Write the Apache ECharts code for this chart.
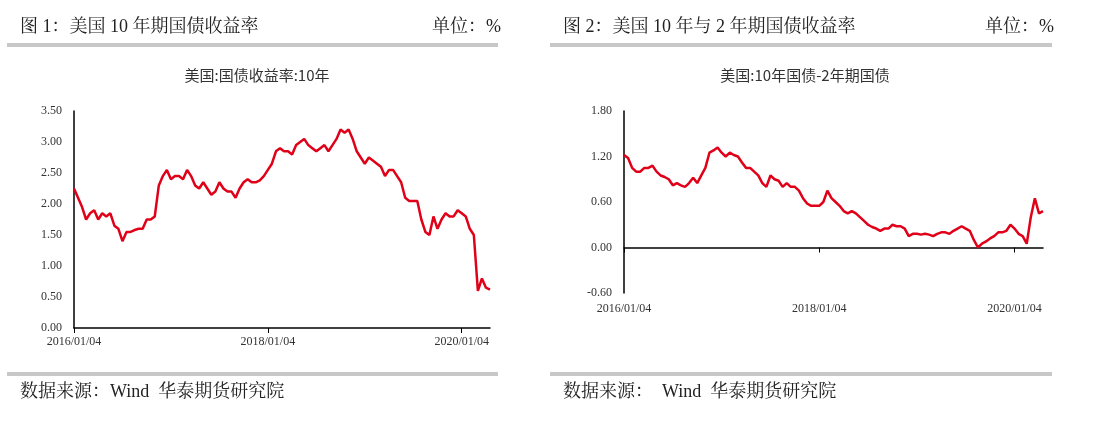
<!DOCTYPE html>
<html><head><meta charset="utf-8">
<script src="https://cdn.jsdelivr.net/npm/echarts@6/dist/echarts.min.js"></script>
<style>html,body{margin:0;padding:0;background:#fff}#c{width:1103px;height:436px}</style>
</head><body><div id="c"></div>
<script>
// half-monthly observations, 2016/01/04 .. 2020/04
const tickLabels = ['2016/01/04', '2018/01/04', '2020/01/04'];
const yield10 = [
 2.25,2.10, 1.95,1.75, 1.85,1.90, 1.75,1.85, 1.80,1.85, 1.65,1.60, 1.40,1.55, 1.55,1.58, 1.60,1.60, 1.75,1.75, 1.80,2.30, 2.45,2.55,
 2.40,2.45, 2.45,2.40, 2.55,2.45, 2.30,2.25, 2.35,2.25, 2.15,2.20, 2.35,2.25, 2.20,2.20, 2.10,2.25, 2.35,2.40, 2.35,2.35, 2.38,2.45,
 2.55,2.65, 2.85,2.90, 2.85,2.85, 2.80,2.95, 3.00,3.05, 2.95,2.90, 2.85,2.90, 2.95,2.85, 2.95,3.05, 3.20,3.15, 3.20,3.05, 2.85,2.75,
 2.65,2.75, 2.70,2.65, 2.60,2.45, 2.55,2.55, 2.45,2.35, 2.10,2.05, 2.05,2.05, 1.75,1.55, 1.50,1.80, 1.60,1.75, 1.85,1.80, 1.80,1.90,
 1.85,1.80, 1.60,1.50, 0.60,0.80, 0.65,0.62
];
const spread = [
 1.22,1.18, 1.05,1.00, 1.00,1.05, 1.05,1.08, 1.00,0.95, 0.93,0.90, 0.82,0.85, 0.82,0.80, 0.85,0.92, 0.85,0.95, 1.05,1.25, 1.28,1.32,
 1.25,1.20, 1.25,1.22, 1.20,1.12, 1.05,1.05, 1.00,0.95, 0.85,0.80, 0.95,0.90, 0.88,0.80, 0.85,0.80, 0.80,0.75, 0.65,0.58, 0.55,0.55,
 0.55,0.60, 0.75,0.65, 0.60,0.55, 0.48,0.45, 0.48,0.45, 0.40,0.35, 0.30,0.27, 0.25,0.22, 0.25,0.25, 0.30,0.28, 0.28,0.25, 0.15,0.18,
 0.18,0.17, 0.18,0.17, 0.15,0.18, 0.20,0.20, 0.18,0.22, 0.25,0.28, 0.25,0.22, 0.10,0.00, 0.05,0.08, 0.12,0.15, 0.20,0.20, 0.22,0.30,
 0.25,0.18, 0.15,0.05, 0.40,0.65, 0.45,0.48
];
const dates = [];
for (let i = 0; i < yield10.length; i++) {
  const y = 2016 + Math.floor(i / 24), m = Math.floor((i % 24) / 2) + 1;
  dates.push(y + '/' + String(m).padStart(2, '0') + '/' + (i % 2 ? '19' : '04'));
}
const isTick = (idx, val) => tickLabels.includes(val);
const serif = '"Liberation Serif","Noto Serif CJK SC","Noto Sans CJK SC",serif';
const lab = {color:'#333', fontFamily:serif, fontSize:12};
const red = '#e00018';
const chart = echarts.init(document.getElementById('c'));
function bar(x, y, w){ return {type:'rect', shape:{x:x,y:y,width:w,height:4}, style:{fill:'#c8c8c8'}}; }
function txt(x, y, t, size, extra){ return Object.assign({type:'text', x:x, y:y, style:{text:t, fontSize:size, fontFamily:serif, fill:'#222', textVerticalAlign:'middle'}}, extra||{}); }
chart.setOption({
  animation:false,
  title:[
    {text:'美国:国债收益率:10年', left:252, top:63, textAlign:'center', textStyle:{fontSize:15, fontWeight:'normal', color:'#333', fontFamily:'"Noto Sans CJK SC",sans-serif'}},
    {text:'美国:10年国债-2年期国债', left:800, top:63, textAlign:'center', textStyle:{fontSize:15, fontWeight:'normal', color:'#333', fontFamily:'"Noto Sans CJK SC",sans-serif'}}
  ],
  graphic:[
    txt(20, 27, '图 1：美国 10 年期国债收益率', 18),
    txt(432, 27, '单位：%', 18),
    txt(563, 27, '图 2：美国 10 年与 2 年期国债收益率', 18),
    txt(985, 27, '单位：%', 18),
    bar(7, 43, 491), bar(550, 43, 502),
    bar(7, 372, 491), bar(550, 372, 502),
    txt(20, 392, '数据来源：Wind  华泰期货研究院', 18),
    txt(563, 392, '数据来源：  Wind  华泰期货研究院', 18)
  ],
  grid:[
    {left:74, top:111, width:416, height:217},
    {left:624, top:111, width:419, height:182}
  ],
  xAxis:[
    {type:'category', gridIndex:0, data:dates, boundaryGap:false,
     axisLine:{lineStyle:{color:'#000', width:1.5}},
     axisTick:{interval:isTick, length:5, lineStyle:{color:'#000'}},
     axisLabel:Object.assign({interval:isTick, margin:8}, lab)},
    {type:'category', gridIndex:1, data:dates, boundaryGap:false,
     axisLine:{onZero:true, lineStyle:{color:'#000', width:1.5}},
     axisTick:{interval:isTick, length:5, lineStyle:{color:'#000'}},
     axisLabel:{show:false}},
    {type:'category', gridIndex:1, data:dates, boundaryGap:false, position:'bottom',
     axisLine:{show:false, onZero:false}, axisTick:{show:false},
     axisLabel:Object.assign({interval:isTick, margin:10}, lab)}
  ],
  yAxis:[
    {type:'value', gridIndex:0, min:0, max:3.5, interval:0.5, splitLine:{show:false},
     axisLine:{show:true, lineStyle:{color:'#000', width:1.5}}, axisTick:{show:false},
     axisLabel:Object.assign({formatter:v=>v.toFixed(2), margin:12}, lab)},
    {type:'value', gridIndex:1, min:-0.6, max:1.8, interval:0.6, splitLine:{show:false},
     axisLine:{show:true, lineStyle:{color:'#000', width:1.5}}, axisTick:{show:false},
     axisLabel:Object.assign({formatter:v=>v.toFixed(2), margin:12}, lab)}
  ],
  series:[
    {type:'line', xAxisIndex:0, yAxisIndex:0, data:yield10, showSymbol:false, lineStyle:{color:red, width:2.5}},
    {type:'line', xAxisIndex:1, yAxisIndex:1, data:spread, showSymbol:false, lineStyle:{color:red, width:2.5}}
  ]
});
</script></body></html>
